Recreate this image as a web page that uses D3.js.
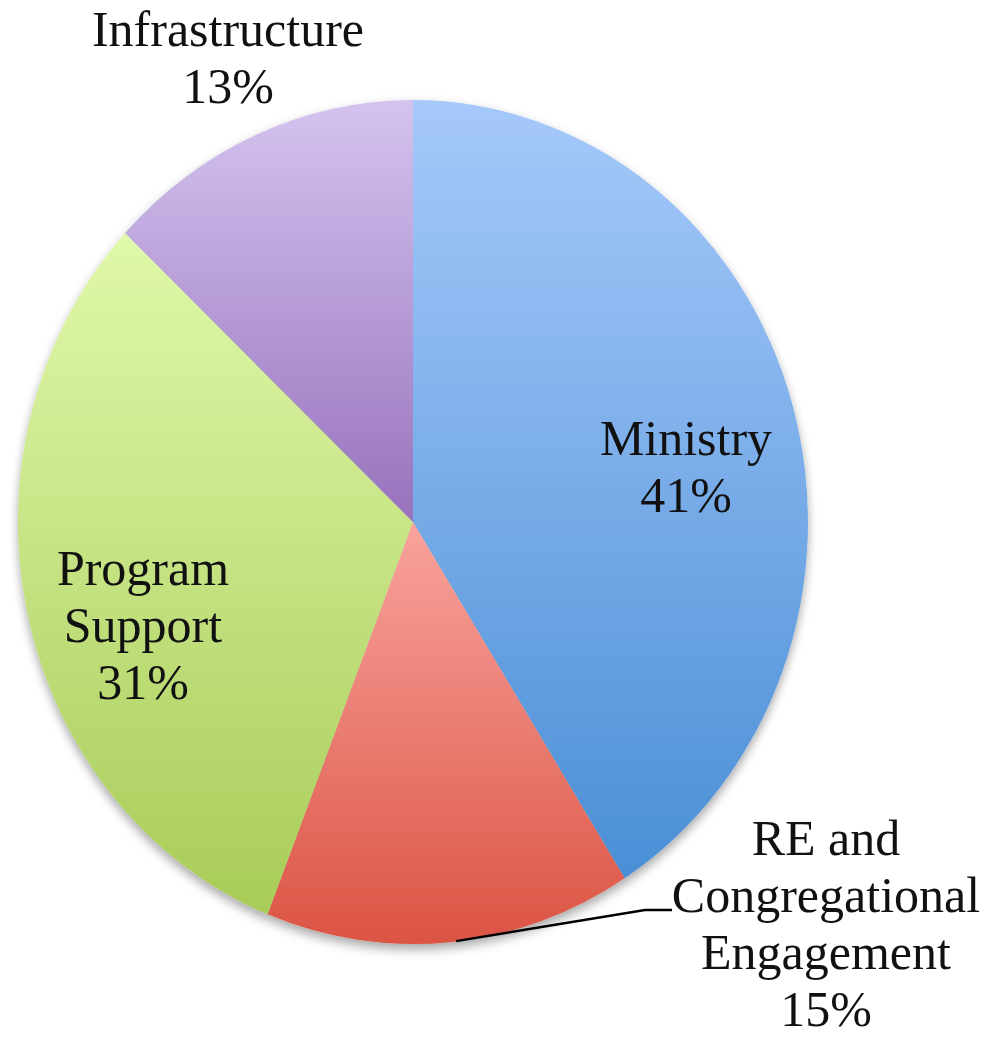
<!DOCTYPE html>
<html>
<head>
<meta charset="utf-8">
<script src="https://cdn.jsdelivr.net/npm/d3@7"></script>
<style>
  html, body { margin: 0; padding: 0; background: #ffffff; }
  svg { display: block; }
  text { font-family: "Liberation Serif", "Times New Roman", serif; fill: #111; }
</style>
</head>
<body>
<script>
// ---- data ----
const categories = ["Ministry", "RE and Congregational Engagement", "Program Support", "Infrastructure"];
const labelLines = [["Ministry"], ["RE and", "Congregational", "Engagement"], ["Program", "Support"], ["Infrastructure"]];
const values = [41, 15, 31, 13];
const colorsTop = ["#a6c9fa", "#f9a39d", "#e0f8aa", "#d4c3ef"];
const colorsBottom = ["#4a8fd6", "#db5444", "#a8cc58", "#9772bc"];

// ---- layout ----
const W = 986, H = 1039;
const cx = 413, cy = 522, rx = 395, ry = 422;
const fontSize = 50, lineH = 57;
// label anchor centres (x, y of first baseline) in page coordinates
const labelPos = [
  { x: 686, y: 455 },
  { x: 826, y: 855 },
  { x: 143, y: 585 },
  { x: 228, y: 46 }
];

const svg = d3.select("body").append("svg").attr("width", W).attr("height", H);
const defs = svg.append("defs");

values.forEach((v, i) => {
  const g = defs.append("linearGradient").attr("id", "grad" + i)
    .attr("x1", 0).attr("y1", 0).attr("x2", 0).attr("y2", 1);
  g.append("stop").attr("offset", "0%").attr("stop-color", colorsTop[i]);
  g.append("stop").attr("offset", "100%").attr("stop-color", colorsBottom[i]);
});

const f = defs.append("filter").attr("id", "shadow")
  .attr("x", "-10%").attr("y", "-10%").attr("width", "120%").attr("height", "125%");
f.append("feDropShadow").attr("dx", 0).attr("dy", 5).attr("stdDeviation", 5)
  .attr("flood-color", "#000").attr("flood-opacity", 0.35);

const pie = d3.pie().sort(null).value(d => d);
const arcs = pie(values);
const arc = d3.arc().innerRadius(0).outerRadius(rx);

const pieG = svg.append("g")
  .attr("transform", `translate(${cx},${cy}) scale(1,${ry / rx})`);

pieG.append("g").attr("filter", "url(#shadow)")
  .selectAll("path").data(arcs).join("path")
  .attr("d", arc)
  .attr("fill", (d, i) => `url(#grad${i})`);

// leader line for RE slice
const reArc = arcs[1];
const mid = (reArc.startAngle + reArc.endAngle) / 2;
const sx = cx + rx * Math.sin(mid) + 6;
const sy = cy - ry * Math.cos(mid) - 1;
svg.append("polyline")
  .attr("points", `${sx},${sy} ${645},${910} ${672},${910}`)
  .attr("fill", "none").attr("stroke", "#000").attr("stroke-width", 2.5);

// labels
labelLines.forEach((lines, i) => {
  const all = lines.concat([Math.round(values[i]) + "%"]);
  const t = svg.append("text")
    .attr("text-anchor", "middle")
    .attr("font-size", fontSize);
  all.forEach((ln, j) => {
    t.append("tspan").attr("x", labelPos[i].x).attr("y", labelPos[i].y + j * lineH).text(ln);
  });
});
</script>
</body>
</html>
